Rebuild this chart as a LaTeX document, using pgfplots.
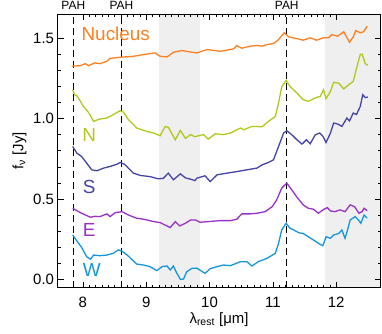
\documentclass[border=0pt]{standalone}
\usepackage{fontspec}
\setmainfont{Liberation Sans}
\usepackage{pgfplots}
\pgfplotsset{compat=1.18}

\definecolor{cnuc}{RGB}{255,128,32}
\definecolor{cn}{RGB}{178,200,28}
\definecolor{cs}{RGB}{68,68,168}
\definecolor{ce}{RGB}{153,48,200}
\definecolor{cw}{RGB}{20,150,218}
\definecolor{shade}{RGB}{239,239,239}

\begin{document}
\begin{tikzpicture}
\begin{axis}[
  name=ax,
  scale only axis,
  width=323bp, height=273.7bp,
  xmin=7.6, xmax=12.7,
  ymin=-0.052, ymax=1.65,
  xtick={8,9,10,11,12},
  ytick={0,0.5,1,1.5},
  minor x tick num=9,
  minor y tick num=4,
  tick align=inside,
  major tick length=6bp,
  minor tick length=3bp,
  tick style={black, line width=0.5bp},
  axis line style={line width=0.6bp},
  axis on top,
  clip=false,
  /pgf/number format/assume math mode=true,
  yticklabel style={/pgf/number format/.cd, fixed, fixed zerofill, precision=1},
  xticklabel style={yshift=-6bp},
  tick label style={font=\fontsize{15}{17}\selectfont},
  label style={font=\fontsize{15}{17}\selectfont},
  xlabel style={yshift=2bp},
  xlabel={λ\textsubscript{rest} [μm]},
  ylabel={f\textsubscript{ν} [Jy]},
]

% excluded wavelength ranges
\addplot[fill=shade, draw=none] coordinates {(9.2,-0.052)(9.85,-0.052)(9.85,1.65)(9.2,1.65)} -- cycle;
\addplot[fill=shade, draw=none] coordinates {(11.82,-0.052)(12.7,-0.052)(12.7,1.65)(11.82,1.65)} -- cycle;

% PAH features
\addplot[black, line width=0.6bp, dash pattern=on 7bp off 4bp] coordinates {(7.85,-0.052)(7.85,1.65)};
\addplot[black, line width=0.6bp, dash pattern=on 7bp off 4bp] coordinates {(8.61,-0.052)(8.61,1.65)};
\addplot[black, line width=0.6bp, dash pattern=on 7bp off 4bp] coordinates {(11.22,-0.052)(11.22,1.65)};

% Nucleus
\addplot[cnuc, line width=1.3bp] coordinates {
(7.83,1.325)(7.96,1.329)(8.04,1.341)(8.09,1.329)(8.19,1.346)(8.27,1.341)(8.38,1.356)(8.43,1.374)
(8.59,1.381)(8.80,1.387)(8.96,1.398)(9.14,1.408)(9.22,1.387)(9.33,1.383)(9.43,1.412)(9.56,1.423)
(9.70,1.414)(9.80,1.408)(9.96,1.429)(10.17,1.418)(10.38,1.433)(10.43,1.454)(10.51,1.437)(10.64,1.45)
(10.75,1.454)(10.83,1.45)(10.91,1.460)(11.01,1.466)(11.09,1.491)(11.18,1.533)(11.25,1.508)(11.38,1.497)
(11.48,1.487)(11.59,1.502)(11.69,1.487)(11.80,1.502)(11.88,1.502)(11.93,1.522)(12.02,1.512)(12.12,1.539)
(12.21,1.474)(12.27,1.508)(12.31,1.547)(12.38,1.533)(12.43,1.539)(12.49,1.574)};

% N
\addplot[cn, line width=1.3bp] coordinates {
(7.84,1.179)(7.87,1.148)(7.91,1.14)(8.01,1.075)(8.09,1.038)(8.17,0.982)(8.22,0.99)(8.27,0.997)
(8.38,1.003)(8.48,1.024)(8.59,1.049)(8.64,1.04)(8.72,0.993)(8.85,0.941)(9.01,0.920)(9.12,0.910)
(9.22,0.893)(9.30,0.951)(9.35,0.945)(9.46,0.868)(9.54,0.926)(9.62,0.877)(9.70,0.90)(9.77,0.887)
(9.85,0.895)(9.905,0.90)(9.98,0.872)(10.09,0.905)(10.22,0.90)(10.33,0.910)(10.49,0.941)(10.54,0.93)
(10.67,0.951)(10.83,0.949)(10.93,0.982)(11.04,1.013)(11.09,1.097)(11.14,1.196)(11.21,1.237)(11.27,1.20)
(11.38,1.159)(11.48,1.117)(11.56,1.107)(11.67,1.128)(11.75,1.138)(11.80,1.179)(11.84,1.123)(11.91,1.169)
(11.96,1.225)(12.04,1.22)(12.12,1.184)(12.20,1.211)(12.27,1.231)(12.33,1.325)(12.38,1.398)(12.41,1.40)
(12.46,1.341)(12.50,1.331)};

% S
\addplot[cs, line width=1.3bp] coordinates {
(7.84,0.826)(7.905,0.785)(7.98,0.764)(8.06,0.723)(8.14,0.681)(8.22,0.675)(8.33,0.692)(8.43,0.702)
(8.54,0.716)(8.59,0.727)(8.66,0.715)(8.80,0.660)(8.91,0.646)(9.06,0.639)(9.19,0.625)(9.27,0.628)
(9.35,0.660)(9.43,0.619)(9.54,0.656)(9.62,0.631)(9.70,0.623)(9.77,0.614)(9.80,0.629)(9.93,0.644)
(10.01,0.608)(10.12,0.650)(10.27,0.660)(10.43,0.670)(10.59,0.681)(10.75,0.692)(10.83,0.712)(10.93,0.727)
(11.01,0.743)(11.09,0.826)(11.17,0.910)(11.22,0.924)(11.30,0.899)(11.38,0.868)(11.46,0.841)(11.53,0.868)
(11.59,0.843)(11.67,0.899)(11.74,0.910)(11.79,0.89)(11.84,0.851)(11.91,0.910)(11.96,0.972)(12.03,0.965)
(12.09,0.951)(12.17,1.003)(12.21,0.985)(12.27,1.034)(12.32,1.025)(12.38,1.075)(12.42,1.148)(12.46,1.13)
(12.50,1.134)};

% E
\addplot[ce, line width=1.3bp] coordinates {
(7.84,0.442)(7.96,0.415)(8.12,0.386)(8.19,0.392)(8.27,0.39)(8.38,0.407)(8.43,0.39)(8.51,0.415)
(8.62,0.421)(8.72,0.40)(8.85,0.38)(8.96,0.374)(9.12,0.359)(9.22,0.353)(9.38,0.322)(9.46,0.359)
(9.53,0.332)(9.62,0.349)(9.70,0.369)(9.78,0.369)(9.85,0.355)(10.01,0.36)(10.17,0.365)(10.33,0.365)
(10.43,0.374)(10.51,0.407)(10.64,0.407)(10.75,0.411)(10.88,0.421)(10.99,0.452)(11.06,0.494)(11.14,0.567)
(11.22,0.598)(11.30,0.556)(11.38,0.511)(11.48,0.463)(11.56,0.442)(11.64,0.436)(11.72,0.411)(11.79,0.432)
(11.86,0.446)(11.91,0.425)(11.98,0.421)(12.06,0.432)(12.14,0.421)(12.22,0.463)(12.29,0.452)(12.36,0.411)
(12.41,0.421)(12.44,0.442)(12.49,0.427)};

% W
\addplot[cw, line width=1.3bp] coordinates {
(7.84,0.276)(7.895,0.245)(7.98,0.199)(8.06,0.141)(8.12,0.125)(8.17,0.151)(8.27,0.147)(8.38,0.151)
(8.48,0.162)(8.56,0.183)(8.62,0.175)(8.70,0.151)(8.77,0.125)(8.85,0.095)(8.96,0.089)(9.06,0.079)
(9.17,0.054)(9.25,0.079)(9.33,0.083)(9.38,0.058)(9.43,0.083)(9.48,0.041)(9.54,0.0)(9.59,0.002)
(9.64,0.047)(9.72,0.068)(9.80,0.07)(9.93,0.037)(10.01,0.066)(10.12,0.079)(10.22,0.089)(10.33,0.085)
(10.49,0.110)(10.59,0.110)(10.67,0.083)(10.77,0.110)(10.91,0.131)(11.04,0.162)(11.09,0.224)(11.14,0.307)
(11.21,0.349)(11.27,0.318)(11.33,0.307)(11.41,0.290)(11.48,0.285)(11.56,0.265)(11.64,0.245)(11.72,0.224)
(11.79,0.209)(11.84,0.265)(11.91,0.255)(11.96,0.276)(12.04,0.285)(12.09,0.307)(12.14,0.255)(12.18,0.307)
(12.22,0.369)(12.30,0.390)(12.35,0.37)(12.39,0.349)(12.44,0.40)(12.49,0.38)};

% labels
\node[text=cnuc, font=\fontsize{19}{21}\selectfont] at (axis cs:8.52,1.525) {Nucleus};
\node[text=cn, font=\fontsize{19}{21}\selectfont] at (axis cs:8.10,0.899) {N};
\node[text=cs, font=\fontsize{19}{21}\selectfont] at (axis cs:8.10,0.577) {S};
\node[text=ce, font=\fontsize{19}{21}\selectfont] at (axis cs:8.10,0.309) {E};
\node[text=cw, font=\fontsize{19}{21}\selectfont] at (axis cs:8.14,0.058) {W};

\node[anchor=south, font=\fontsize{12}{14}\selectfont, inner sep=0pt, yshift=4bp] at (axis cs:7.85,1.65) {PAH};
\node[anchor=south, font=\fontsize{12}{14}\selectfont, inner sep=0pt, yshift=4bp] at (axis cs:8.61,1.65) {PAH};
\node[anchor=south, font=\fontsize{12}{14}\selectfont, inner sep=0pt, yshift=4bp] at (axis cs:11.22,1.65) {PAH};
\end{axis}
\pgfresetboundingbox
\path ([xshift=-57.5bp,yshift=-45.3bp]ax.south west) rectangle ([xshift=1.5bp,yshift=14bp]ax.north east);
\end{tikzpicture}
\end{document}
